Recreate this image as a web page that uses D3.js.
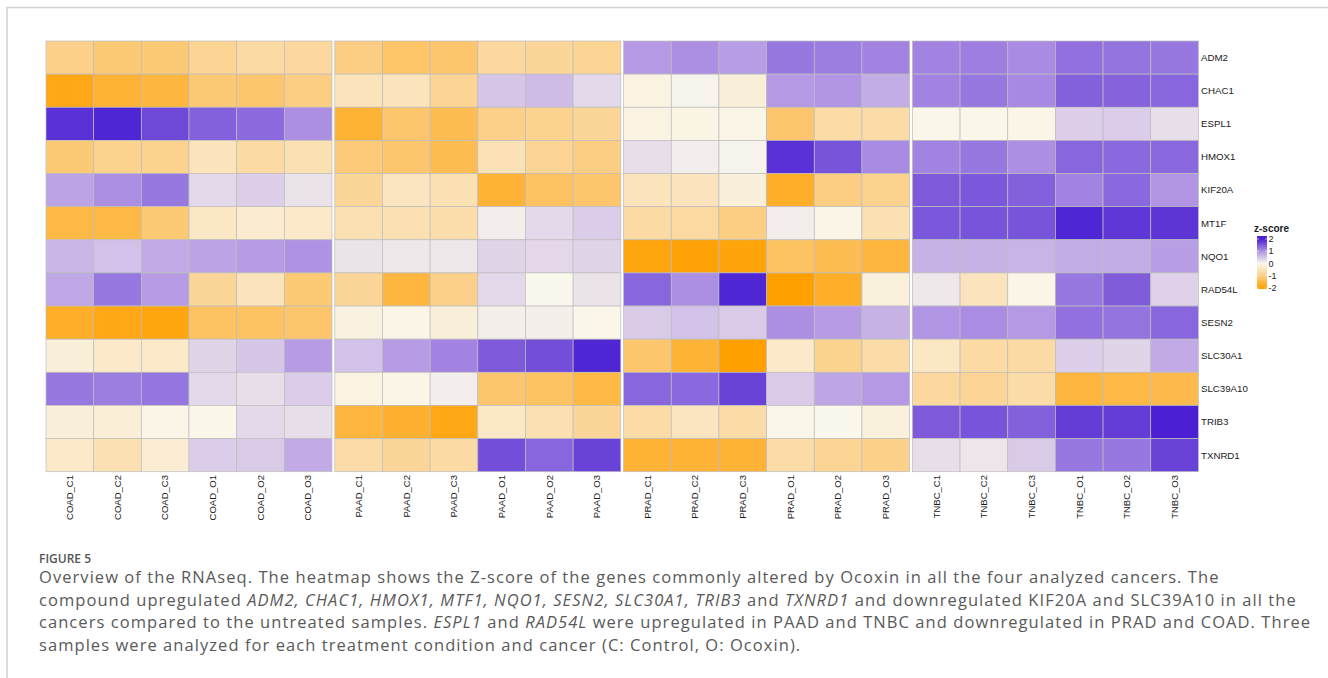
<!DOCTYPE html>
<html>
<head>
<meta charset="utf-8">
<script src="https://cdn.jsdelivr.net/npm/d3@7"></script>
<style>
  body { margin: 0; background: #fff; }
  svg { display: block; }
</style>
</head>
<body>
<svg id="fig" width="1328" height="678"></svg>
<script>
// genes (rows) and samples (columns)
var genes = ["ADM2", "CHAC1", "ESPL1", "HMOX1", "KIF20A", "MT1F", "NQO1",
             "RAD54L", "SESN2", "SLC30A1", "SLC39A10", "TRIB3", "TXNRD1"]
var cancers = ["COAD", "PAAD", "PRAD", "TNBC"]
var reps = ["C1", "C2", "C3", "O1", "O2", "O3"]

// z-scores, one row per gene, 24 samples each
// order: COAD C1..O3, PAAD C1..O3, PRAD C1..O3, TNBC C1..O3
var zADM2 = [-1.0, -1.15, -1.15, -0.9, -0.75, -0.8,  -1.05, -1.25, -1.2, -0.8, -0.85, -0.9,  0.95, 1.05, 0.9, 1.25, 1.2, 1.15,  1.15, 1.18, 1.08, 1.3, 1.28, 1.25]
var zCHAC1 = [-1.85, -1.6, -1.55, -1.15, -1.2, -1.05,  -0.5, -0.5, -0.9, 0.5, 0.6, 0.3,  -0.1, 0.05, -0.2, 0.95, 1.0, 0.75,  1.15, 1.25, 1.1, 1.45, 1.42, 1.4]
var zESPL1 = [1.85, 1.95, 1.65, 1.45, 1.35, 1.05,  -1.6, -1.2, -1.4, -1.0, -0.95, -0.85,  -0.1, -0.08, -0.05, -1.2, -0.7, -0.7,  -0.03, -0.03, -0.05, 0.4, 0.42, 0.25]
var zHMOX1 = [-1.15, -0.95, -0.95, -0.5, -0.75, -0.6,  -1.12, -1.2, -1.4, -0.55, -0.9, -1.05,  0.25, 0.1, 0.05, 1.85, 1.55, 1.08,  1.15, 1.25, 1.05, 1.4, 1.38, 1.38]
var zKIF20A = [0.85, 1.05, 1.25, 0.3, 0.4, 0.2,  -0.85, -0.45, -0.6, -1.6, -1.3, -1.2,  -0.5, -0.48, -0.2, -1.7, -1.05, -0.95,  1.5, 1.52, 1.45, 1.15, 1.38, 1.0]
var zMT1F = [-1.5, -1.5, -1.15, -0.42, -0.3, -0.35,  -0.6, -0.6, -0.65, 0.1, 0.3, 0.42,  -0.75, -0.78, -1.05, 0.1, -0.05, -0.6,  1.52, 1.55, 1.55, 1.95, 1.8, 1.82]
var zNQO1 = [0.65, 0.55, 0.78, 0.85, 0.92, 1.02,  0.2, 0.15, 0.15, 0.35, 0.32, 0.35,  -1.9, -1.95, -1.92, -1.3, -1.4, -1.55,  0.7, 0.7, 0.68, 0.75, 0.75, 0.9]
var zRAD54L = [0.8, 1.25, 0.92, -0.85, -0.5, -1.15,  -0.85, -1.55, -1.0, 0.3, 0.0, 0.2,  1.4, 1.05, 1.95, -2.0, -1.7, -0.15,  0.15, -0.48, -0.05, 1.25, 1.48, 0.38]
var zSESN2 = [-1.7, -1.85, -1.9, -1.3, -1.3, -1.2,  -0.12, -0.05, -0.2, 0.08, 0.08, -0.02,  0.45, 0.55, 0.45, 1.05, 0.92, 0.7,  1.0, 1.07, 0.95, 1.3, 1.28, 1.4]
var zSLC30A1 = [-0.2, -0.35, -0.35, 0.35, 0.5, 0.92,  0.55, 0.92, 1.15, 1.5, 1.6, 1.95,  -1.2, -1.6, -2.0, -0.35, -0.95, -0.7,  -0.42, -0.75, -0.75, 0.4, 0.35, 0.78]
var zSLC39A10 = [1.25, 1.2, 1.27, 0.3, 0.25, 0.42,  -0.1, -0.05, 0.1, -1.2, -1.28, -1.5,  1.4, 1.38, 1.7, 0.45, 0.82, 0.95,  -0.8, -0.88, -0.7, -1.55, -1.5, -1.45]
var zTRIB3 = [-0.2, -0.22, -0.05, -0.02, 0.3, 0.25,  -1.55, -1.65, -1.85, -0.38, -0.6, -0.85,  -0.7, -0.45, -0.68, -0.02, 0.0, -0.15,  1.5, 1.55, 1.45, 1.75, 1.75, 2.0]
var zTXNRD1 = [-0.35, -0.6, -0.25, 0.42, 0.45, 0.78,  -0.68, -0.85, -0.75, 1.6, 1.4, 1.7,  -1.6, -1.6, -1.6, -0.7, -0.9, -0.98,  0.25, 0.18, 0.45, 1.25, 1.25, 1.7]

var zScores = [zADM2, zCHAC1, zESPL1, zHMOX1, zKIF20A, zMT1F, zNQO1,
               zRAD54L, zSESN2, zSLC30A1, zSLC39A10, zTRIB3, zTXNRD1]

var legendTicks = [2, 1, 0, -1, -2]

var svg = d3.select("#fig")

// light frame round the figure
svg.append("path")
    .attr("d", "M7,678 V7.5 H1328")
    .attr("fill", "none")
    .attr("stroke", "#d4d4d4")
    .attr("stroke-width", 1.6)

var color = d3.scaleLinear()
    .domain([-2, -1, 0, 1, 2])
    .range(["#ffa000", "#fcd08a", "#faf7ec", "#b194e4", "#4a20d2"])
    .clamp(true)

var xGroup = d3.scaleBand()
    .domain(cancers)
    .range([46, 1198.4])
    .paddingInner(0.0097)

var xInner = d3.scaleBand()
    .domain(reps)
    .range([0, xGroup.bandwidth()])

var y = d3.scaleBand()
    .domain(genes)
    .range([41, 471.7])

var cells = []
genes.forEach(function(g, gi) {
    cancers.forEach(function(c, ci) {
        reps.forEach(function(r, ri) {
            cells.push({gene: g, cancer: c, rep: r, z: zScores[gi][ci * 6 + ri]})
        })
    })
})

svg.append("g")
    .selectAll("rect")
    .data(cells)
    .join("rect")
    .attr("x", function(d) { return xGroup(d.cancer) + xInner(d.rep) })
    .attr("y", function(d) { return y(d.gene) })
    .attr("width", xInner.bandwidth())
    .attr("height", y.bandwidth())
    .attr("fill", function(d) { return color(d.z) })
    .attr("stroke", "#bdbdbd")
    .attr("stroke-width", 0.7)

// row labels
svg.append("g")
    .selectAll("text")
    .data(genes)
    .join("text")
    .attr("x", 1201)
    .attr("y", function(d) { return y(d) + y.bandwidth() / 2 })
    .attr("dy", "0.35em")
    .attr("font-family", "Liberation Sans, Arial, sans-serif")
    .attr("font-size", 9.7)
    .attr("fill", "#1a1a1a")
    .text(function(d) { return d })

// column labels
var samples = []
cancers.forEach(function(c) {
    reps.forEach(function(r) { samples.push({cancer: c, rep: r}) })
})

svg.append("g")
    .selectAll("text")
    .data(samples)
    .join("text")
    .attr("transform", function(d) {
        var cx = xGroup(d.cancer) + xInner(d.rep) + xInner.bandwidth() / 2
        return "translate(" + cx + ",475) rotate(-90)"
    })
    .attr("dy", "0.35em")
    .attr("text-anchor", "end")
    .attr("font-family", "Liberation Sans, Arial, sans-serif")
    .attr("font-size", 9.5)
    .attr("fill", "#1a1a1a")
    .text(function(d) { return d.cancer + "_" + d.rep })

// legend
var legY = d3.scaleLinear().domain([2.24, -2.08]).range([236, 289])
var leg = svg.append("g")

var grad = svg.append("defs").append("linearGradient")
    .attr("id", "zgrad")
    .attr("x1", 0).attr("x2", 0).attr("y1", 0).attr("y2", 1)
d3.range(0, 1.0001, 0.05).forEach(function(t) {
    var v = legY.invert(236 + t * 53)
    grad.append("stop")
        .attr("offset", t)
        .attr("stop-color", color(v))
})

leg.append("rect")
    .attr("x", 1257)
    .attr("y", 236)
    .attr("width", 10)
    .attr("height", 53)
    .attr("fill", "url(#zgrad)")

leg.selectAll("line.tk")
    .data(legendTicks)
    .join("line")
    .attr("class", "tk")
    .attr("x1", 1257).attr("x2", 1259)
    .attr("y1", function(d) { return legY(d) })
    .attr("y2", function(d) { return legY(d) })
    .attr("stroke", "#fff")
    .attr("stroke-width", 0.6)

leg.selectAll("line.tk2")
    .data(legendTicks)
    .join("line")
    .attr("class", "tk2")
    .attr("x1", 1265).attr("x2", 1267)
    .attr("y1", function(d) { return legY(d) })
    .attr("y2", function(d) { return legY(d) })
    .attr("stroke", "#fff")
    .attr("stroke-width", 0.6)

leg.selectAll("text.lab")
    .data(legendTicks)
    .join("text")
    .attr("class", "lab")
    .attr("x", 1268.5)
    .attr("y", function(d) { return legY(d) })
    .attr("dy", "0.35em")
    .attr("font-family", "Liberation Sans, Arial, sans-serif")
    .attr("font-size", 9)
    .attr("fill", "#1a1a1a")
    .text(function(d) { return d })

leg.append("text")
    .attr("x", 1254)
    .attr("y", 232)
    .attr("font-family", "Liberation Sans, Arial, sans-serif")
    .attr("font-weight", "bold")
    .attr("font-size", 10)
    .attr("fill", "#1a1a1a")
    .text("z-score")

// caption
svg.append("text")
    .attr("x", 39)
    .attr("y", 562.5)
    .attr("font-family", "Open Sans, sans-serif")
    .attr("font-weight", 600)
    .attr("font-size", 12)
    .attr("fill", "#555")
    .text("FIGURE 5")

var caption = [
    [["Overview of the RNAseq. The heatmap shows the Z-score of the genes commonly altered by Ocoxin in all the four analyzed cancers. The", 0]],
    [["compound upregulated ", 0], ["ADM2, CHAC1, HMOX1, MTF1, NQO1, SESN2, SLC30A1, TRIB3", 1], [" and ", 0], ["TXNRD1", 1], [" and downregulated KIF20A and SLC39A10 in all the", 0]],
    [["cancers compared to the untreated samples. ", 0], ["ESPL1", 1], [" and ", 0], ["RAD54L", 1], [" were upregulated in PAAD and TNBC and downregulated in PRAD and COAD. Three", 0]],
    [["samples were analyzed for each treatment condition and cancer (C: Control, O: Ocoxin).", 0]]
]

var cap = svg.append("g")
    .attr("font-family", "Open Sans, sans-serif")
    .attr("font-size", 16.5)
    .attr("letter-spacing", 1.06)
    .attr("fill", "#595959")

caption.forEach(function(line, i) {
    var t = cap.append("text")
        .attr("x", 39)
        .attr("y", 583 + i * 22.7)
    line.forEach(function(seg) {
        t.append("tspan")
            .attr("font-style", seg[1] ? "italic" : "normal")
            .text(seg[0])
    })
})
</script>
</body>
</html>
